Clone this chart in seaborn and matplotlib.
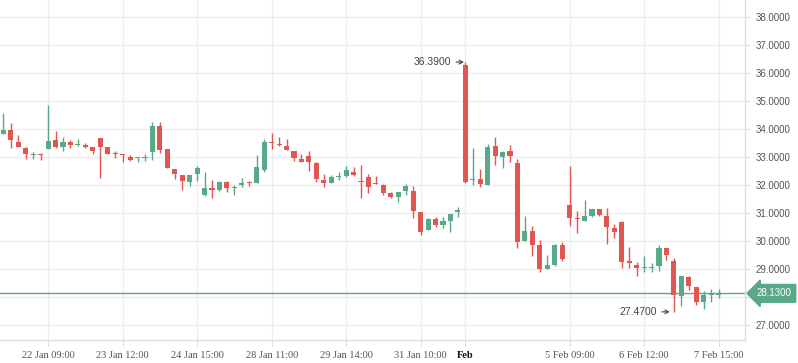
import matplotlib
matplotlib.use("Agg")
import matplotlib.pyplot as plt
import matplotlib.transforms as mtransforms
import seaborn as sns
import numpy as np

# candle data (one candle per index)
opens = [33.81, 33.95, 33.55, 33.33, 33.08, 33.09, 33.27, 33.62, 33.37, 33.55,
         33.44, 33.44, 33.37, 33.67, 33.37, 33.12, 33.12, 33.01, 32.95, 32.96,
         33.19, 34.10, 33.30, 32.58, 32.37, 32.10, 32.38, 31.63, 31.90, 31.83,
         32.12, 31.88, 31.99, 32.09, 32.06, 32.55, 33.51, 33.48, 33.40, 33.23,
         32.94, 33.05, 32.80, 32.19, 32.08, 32.29, 32.33, 32.48, 32.13, 32.30,
         32.05, 32.01, 31.73, 31.56, 31.77, 31.80, 31.05, 30.38, 30.80, 30.56,
         30.70, 31.05, 36.30, 32.18, 32.23, 32.01, 33.40, 32.99, 33.23, 32.80,
         29.99, 30.37, 29.87, 29.00, 29.14, 29.87, 31.30, 30.79, 30.70, 30.88,
         31.15, 30.90, 30.48, 30.69, 29.30, 29.15, 29.02, 29.04, 29.10, 29.76,
         29.30, 28.02, 28.73, 28.37, 27.81, 28.08, 28.06]
highs = [34.56, 34.23, 33.80, 33.35, 33.17, 33.13, 34.87, 33.94, 33.73, 33.60,
         33.64, 33.51, 33.37, 33.67, 33.37, 33.21, 33.12, 33.08, 33.01, 33.12,
         34.26, 34.26, 33.30, 32.58, 32.37, 32.37, 32.69, 32.48, 32.19, 32.15,
         32.15, 32.01, 32.26, 32.15, 33.08, 33.65, 33.87, 33.73, 33.65, 33.23,
         33.12, 33.23, 32.83, 32.40, 32.37, 32.48, 32.69, 32.65, 32.73, 32.40,
         32.33, 32.05, 31.75, 31.74, 32.05, 31.98, 31.05, 30.83, 30.87, 30.87,
         30.98, 31.23, 36.39, 33.33, 32.58, 33.45, 33.73, 33.23, 33.44, 32.94,
         30.90, 30.52, 30.05, 29.51, 29.89, 29.98, 32.69, 31.08, 31.48, 31.15,
         31.15, 31.19, 30.62, 30.73, 29.80, 29.26, 29.48, 29.21, 29.85, 29.76,
         29.40, 28.76, 28.76, 28.37, 28.23, 28.30, 28.30]
lows = [33.81, 33.31, 33.37, 32.92, 32.93, 32.89, 33.27, 33.33, 33.23, 33.31,
        33.40, 33.33, 33.10, 32.24, 33.12, 32.95, 32.81, 32.85, 32.82, 32.87,
        32.90, 33.15, 32.60, 32.23, 31.83, 31.95, 32.13, 31.60, 31.52, 31.77,
        31.76, 31.63, 31.92, 31.95, 32.06, 32.48, 33.27, 33.38, 33.24, 32.85,
        32.81, 32.51, 32.11, 31.92, 32.06, 32.19, 32.27, 32.33, 31.52, 31.70,
        32.03, 31.63, 31.52, 31.38, 31.63, 30.81, 30.20, 30.38, 30.49, 30.45,
        30.31, 30.85, 32.06, 31.99, 31.92, 31.99, 32.70, 32.60, 32.83, 29.76,
        29.99, 29.45, 28.88, 29.00, 29.12, 29.27, 30.55, 30.27, 30.70, 30.85,
        30.89, 29.88, 30.10, 29.02, 29.02, 28.74, 28.89, 28.89, 28.93, 29.31,
        27.47, 27.67, 28.24, 27.70, 27.56, 27.81, 27.95]
closes = [33.95, 33.60, 33.37, 33.10, 33.10, 33.07, 33.58, 33.37, 33.55, 33.44,
          33.46, 33.37, 33.23, 33.37, 33.12, 33.10, 33.06, 32.90, 32.97, 32.99,
          34.10, 33.26, 32.60, 32.38, 32.13, 32.37, 32.62, 31.90, 31.81, 32.12,
          31.88, 31.94, 32.08, 32.07, 32.65, 33.55, 33.49, 33.42, 33.24, 32.95,
          32.81, 32.83, 32.20, 32.06, 32.30, 32.31, 32.55, 32.37, 32.11, 31.92,
          32.03, 31.70, 31.56, 31.74, 31.98, 31.06, 30.31, 30.80, 30.56, 30.73,
          30.98, 31.08, 32.10, 32.21, 32.02, 33.37, 33.02, 33.19, 33.05, 29.95,
          30.37, 29.85, 29.00, 29.15, 29.87, 29.35, 30.81, 30.77, 30.90, 31.15,
          30.92, 30.49, 30.31, 29.24, 29.20, 29.04, 29.05, 29.08, 29.76, 29.49,
          28.07, 28.76, 28.38, 27.81, 28.08, 28.11, 28.13]

tick_pos = [6, 16, 26, 36, 46, 56, 62, 76, 86, 96]
tick_labels = ["22 Jan 09:00", "23 Jan 12:00", "24 Jan 15:00", "28 Jan 11:00",
               "29 Jan 14:00", "31 Jan 10:00", "Feb", "5 Feb 09:00",
               "6 Feb 12:00", "7 Feb 15:00"]
y_ticks = list(range(27, 39))
last_price = 28.13

GREEN = "#59a887"
RED = "#e15651"
GRID = "#eceef2"
SANS = "Liberation Sans"

sns.set_style("white")

o = np.array(opens)
h = np.array(highs)
l = np.array(lows)
c = np.array(closes)
x = np.arange(len(o))
up = c >= o
colors = np.where(up, GREEN, RED)

fig = plt.figure(figsize=(7.98, 3.63), dpi=100)
ax = fig.add_axes([0, 23 / 363, 745 / 798, 340 / 363])

# wicks and bodies
ax.vlines(x, l, h, colors=colors, linewidth=1.0, zorder=3)
body_low = np.minimum(o, c)
body_h = np.maximum(np.abs(c - o), 0.04)
ax.bar(x, body_h, bottom=body_low, width=0.68, color=colors, linewidth=0, zorder=4)

# last price line
ax.axhline(last_price, color=GREEN, linewidth=1.0, zorder=2)

ax.set_xlim(-0.46, 99.54)
ax.set_ylim(38 - 323 / 28, 38 + 17 / 28)

# the 28 label sits under the last-price box in the reference
ax.set_yticks(y_ticks)
ax.set_yticklabels(["" if v == 28 else f"{v:.4f}" for v in y_ticks])
ax.yaxis.tick_right()
ax.set_xticks(tick_pos)
ax.set_xticklabels(tick_labels)

ax.grid(True, color=GRID, linewidth=1.0, zorder=0)
ax.set_axisbelow(True)
for side in ["left", "top"]:
    ax.spines[side].set_visible(False)
for side in ["right", "bottom"]:
    ax.spines[side].set_color("#d9dce1")
    ax.spines[side].set_linewidth(1.0)

ax.tick_params(axis="y", which="both", right=True, length=3.5, width=0.8,
               color="#d9dce1", labelsize=7, labelcolor="#555555", pad=4)
ax.tick_params(axis="x", which="both", bottom=True, length=4, width=0.8,
               color="#d9dce1", labelsize=7.5, labelcolor="#555555", pad=4)
for lab in ax.get_yticklabels():
    lab.set_fontfamily(SANS)
for lab in ax.get_xticklabels():
    lab.set_fontfamily("Liberation Serif")
    if lab.get_text() == "Feb":
        lab.set_color("#111111")
        lab.set_fontweight("bold")

# high / low annotations with a small arrow towards the candle
i_hi = int(np.argmax(h))
i_lo = int(np.argmin(l))
for xi, yv, off in [(i_hi, h[i_hi], 0.5), (i_lo, l[i_lo], 2.5)]:
    ax.annotate(f"{yv:.4f}", xy=(xi, yv), xytext=(-(off + 10), 0),
                textcoords="offset points", ha="right", va="center",
                fontsize=7.5, color="#444444", family=SANS, zorder=5,
                arrowprops=dict(arrowstyle="->,head_length=0.35,head_width=0.18",
                                color="#444444", lw=0.8,
                                shrinkA=1.5, shrinkB=off + 0.5))

# last price label on the axis
trans = mtransforms.blended_transform_factory(ax.transAxes, ax.transData)
ax.text(1.016, last_price, f"{last_price:.4f}", transform=trans, ha="left",
        va="center", fontsize=7, color="white", family=SANS, clip_on=False,
        zorder=6, bbox=dict(boxstyle="larrow,pad=0.4", fc=GREEN, ec=GREEN))

fig.savefig("out.png", dpi=100)
